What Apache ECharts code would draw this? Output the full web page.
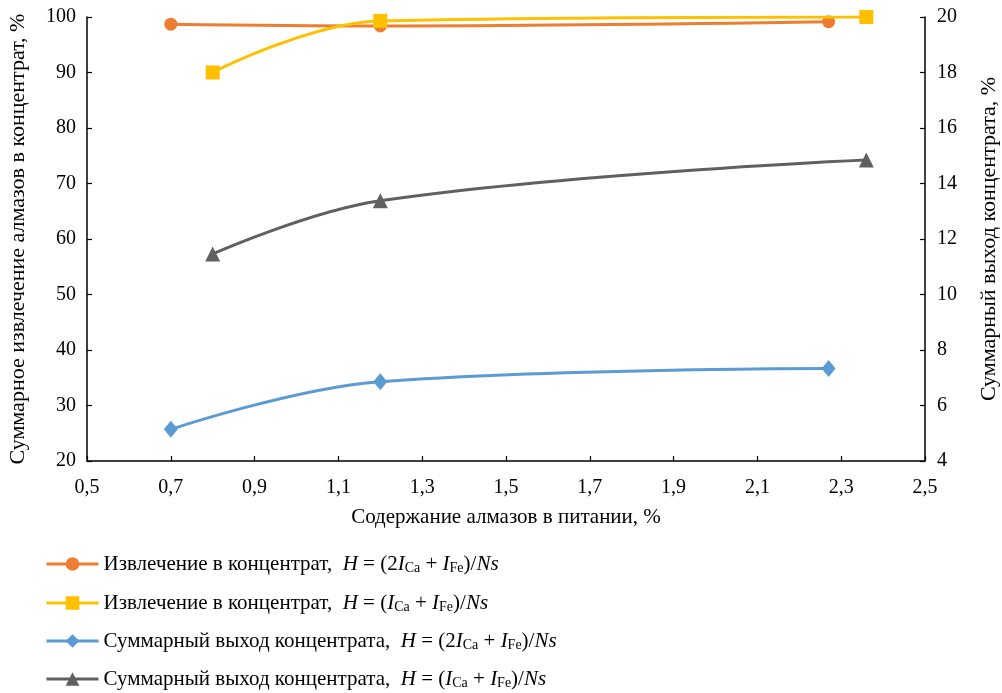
<!DOCTYPE html>
<html>
<head>
<meta charset="utf-8">
<script src="https://cdn.jsdelivr.net/npm/echarts@6/dist/echarts.min.js"></script>
<style>html,body{margin:0;padding:0;background:#fff;}#c{width:1002px;height:693px;}</style>
</head>
<body>
<div id="c"></div>
<script>
// Data
var xOrangeBlue = [0.7, 1.2, 2.27];
var xYellowGray = [0.8, 1.2, 2.36];
var recovery2 = [98.7, 98.4, 99.15];   // Извлечение, H=(2ICa+IFe)/Ns
var recovery1 = [90.0, 99.3, 100.0];   // Извлечение, H=(ICa+IFe)/Ns
var yield2 = [5.14, 6.86, 7.33];       // Суммарный выход, H=(2ICa+IFe)/Ns
var yield1 = [11.46, 13.38, 14.85];    // Суммарный выход, H=(ICa+IFe)/Ns
var seriesNames = [
  'Извлечение в концентрат, H = (2ICa + IFe)/Ns',
  'Извлечение в концентрат, H = (ICa + IFe)/Ns',
  'Суммарный выход концентрата, H = (2ICa + IFe)/Ns',
  'Суммарный выход концентрата, H = (ICa + IFe)/Ns'
];
var legendRich = [
  'Извлечение в концентрат,  {i|H} = (2{i|I}{sub|Ca} + {i|I}{sub|Fe})/{i|Ns}',
  'Извлечение в концентрат,  {i|H} = ({i|I}{sub|Ca} + {i|I}{sub|Fe})/{i|Ns}',
  'Суммарный выход концентрата,  {i|H} = (2{i|I}{sub|Ca} + {i|I}{sub|Fe})/{i|Ns}',
  'Суммарный выход концентрата,  {i|H} = ({i|I}{sub|Ca} + {i|I}{sub|Fe})/{i|Ns}'
];
var xAxisName = 'Содержание алмазов в питании, %';
var yLeftName = 'Суммарное извлечение алмазов в концентрат, %';
var yRightName = 'Суммарный выход концентрата, %';

function pairs(xs, ys){ return xs.map(function(x,i){ return [x, ys[i]]; }); }

var font = 'Liberation Serif, Times New Roman, serif';
var chart = echarts.init(document.getElementById('c'), null, {renderer:'canvas'});
var axisCommon = {
  axisLine: {show:true, lineStyle:{color:'#000', width:1.5}},
  axisTick: {show:true, inside:true, length:5, lineStyle:{color:'#000', width:1.2}},
  splitLine: {show:false},
  axisLabel: {color:'#000', fontFamily:font, fontSize:20},
  nameTextStyle: {color:'#000', fontFamily:font, fontSize:22}
};
var colors = ['#ED7D31', '#FFC000', '#5B9BD5', '#606060'];
var legendTops = [548, 587, 625, 663];
var legends = seriesNames.map(function(n, k){
  return {
    orient:'vertical', left:40, top:legendTops[k], itemWidth:52, itemHeight:17,
    data:[n],
    lineStyle:{width:3},
    formatter: function(name){ return legendRich[seriesNames.indexOf(name)]; },
    textStyle: {
      color:'#000', fontFamily:font, fontSize:21, lineHeight:22,
      rich: {
        i: {fontFamily:font, fontSize:21, fontStyle:'italic', color:'#000', lineHeight:22},
        sub: {fontFamily:font, fontSize:14, color:'#000', verticalAlign:'bottom', lineHeight:14, padding:[7,0,0,0]}
      }
    }
  };
});
var option = {
  animation: false,
  backgroundColor: '#fff',
  grid: {left:87, right:77, top:17, bottom:232, containLabel:false, outerBoundsMode:'none'},
  xAxis: Object.assign({}, axisCommon, {
    type:'value', min:0.5, max:2.5, interval:0.2,
    name: xAxisName, nameLocation:'middle', nameGap:46,
    nameTextStyle: {color:'#000', fontFamily:font, fontSize:21},
    axisLabel: Object.assign({}, axisCommon.axisLabel, {margin:17, formatter:function(v){return v.toFixed(1).replace('.', ',');}})
  }),
  yAxis: [
    Object.assign({}, axisCommon, {
      type:'value', min:20, max:100, interval:10, position:'left',
      name: yLeftName, nameLocation:'middle', nameGap:58, nameRotate:90,
      axisLabel: Object.assign({}, axisCommon.axisLabel, {margin:11})
    }),
    Object.assign({}, axisCommon, {
      type:'value', min:4, max:20, interval:2, position:'right',
      name: yRightName, nameLocation:'middle', nameGap:53, nameRotate:90,
      axisLabel: Object.assign({}, axisCommon.axisLabel, {margin:12})
    })
  ],
  legend: legends,
  series: [
    {name:seriesNames[0], type:'line', yAxisIndex:0, smooth:0.4, data:pairs(xOrangeBlue, recovery2),
     symbol:'circle', symbolSize:13, itemStyle:{color:colors[0]}, lineStyle:{color:colors[0], width:3}, z:3},
    {name:seriesNames[1], type:'line', yAxisIndex:0, smooth:0.4, data:pairs(xYellowGray, recovery1),
     symbol:'rect', symbolSize:14, itemStyle:{color:colors[1]}, lineStyle:{color:colors[1], width:3}, z:4},
    {name:seriesNames[2], type:'line', yAxisIndex:1, smooth:0.4, data:pairs(xOrangeBlue, yield2),
     symbol:'diamond', symbolSize:[14,17], itemStyle:{color:colors[2]}, lineStyle:{color:colors[2], width:3}},
    {name:seriesNames[3], type:'line', yAxisIndex:1, smooth:0.4, data:pairs(xYellowGray, yield1),
     symbol:'triangle', symbolSize:15, itemStyle:{color:colors[3]}, lineStyle:{color:colors[3], width:3}}
  ]
};
chart.setOption(option);
</script>
</body>
</html>
